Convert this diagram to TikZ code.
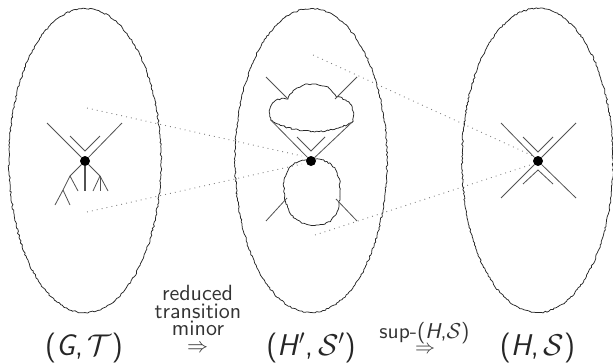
\RequirePackage{fix-cm}
\documentclass[tikz,border=0pt]{standalone}
\usetikzlibrary{decorations.pathmorphing}
\newcommand{\midtxt}[1]{\scalebox{2.2}{\sffamily\fontsize{10}{12}\selectfont #1}}
\newcommand{\suptxt}[1]{\scalebox{2.15}{\sffamily\fontsize{10}{12}\selectfont #1}}
\begin{document}
\begin{tikzpicture}[x=1pt,y=-1pt,
  wob/.style={draw=black!85, line width=0.75pt, decorate, decoration={random steps, segment length=2pt, amplitude=0.75pt}},
  ln/.style={draw=black!68, line width=0.8pt},
  dotl/.style={draw=black!50, line width=0.9pt, dash pattern=on 0.9pt off 4.1pt},
  vtx/.style={circle, fill=black, inner sep=0pt, minimum size=10pt},
  big/.style={font=\sffamily\fontsize{30}{30}\selectfont, text=black!85, inner sep=0pt, anchor=base},
  mid/.style={text=black!80, inner sep=0pt, anchor=base},
  arr/.style={text=black!80, inner sep=0pt, anchor=center},
]
\useasboundingbox (0,0) rectangle (613,364);
\pgfmathsetseed{7}
% outer ellipses
\draw[wob] (85,160.5) ellipse [x radius=76, y radius=152];
\draw[wob] (311,160.5) ellipse [x radius=76, y radius=152];
\draw[wob] (537.5,160.5) ellipse [x radius=75.5, y radius=152];

% clouds in the middle
\draw[wob] (270.7,120) .. controls (266,105) and (276,97) .. (288,99)
  .. controls (292,86) and (310,82) .. (318,85)
  .. controls (330,86) and (335,93) .. (336,97)
  .. controls (348,98) and (356,108) .. (353,121)
  .. controls (340,130) and (320,133) .. (310,131)
  .. controls (295,130) and (280,127) .. (270.7,120) -- cycle;
\draw[wob] (311,159) .. controls (330,158) and (341,170) .. (340,190)
  .. controls (340,205) and (338,225) .. (316,225)
  .. controls (295,226) and (286,212) .. (284,190)
  .. controls (282,170) and (295,159) .. (311,159) -- cycle;

% vertices
\node[vtx] (L) at (85,161) {};
\node[vtx] (M) at (311,161) {};
\node[vtx] (R) at (538,161) {};

% left structure
\coordinate (la) at (47,123);
\coordinate (lb) at (122,123);
\coordinate (lv1) at (70,136);
\coordinate (lv2) at (85,151);
\coordinate (lv3) at (100,136);
\coordinate (lq) at (70,176);
\coordinate (lq1) at (78,191);
\coordinate (lq2) at (63,190);
\coordinate (lq3) at (55,205);
\coordinate (lq4) at (70,205);
\coordinate (lm) at (85,191);
\coordinate (lr) at (100,176);
\coordinate (lr1) at (93,191);
\coordinate (lr2) at (100,191);
\coordinate (lr3) at (108,191);
\draw[ln] (la) -- (L);
\draw[ln] (lb) -- (L);
\draw[ln] (lv1) -- (lv2) -- (lv3);
\draw[ln] (L) -- (lq);
\draw[ln] (lq) -- (lq1);
\draw[ln] (lq) -- (lq2) -- (lq3);
\draw[ln] (lq2) -- (lq4);
\draw[ln, line width=1.1pt] (L) -- (lm);
\draw[ln] (L) -- (lr);
\draw[ln] (lr) -- (lr1);
\draw[ln] (lr) -- (lr2);
\draw[ln] (lr) -- (lr3);

% middle structure
\coordinate (ma) at (270.7,120);
\coordinate (mb) at (353.3,121);
\coordinate (mv1) at (297,137);
\coordinate (mv2) at (311,151);
\coordinate (mv3) at (325,137);
\coordinate (mt1) at (266,77);
\coordinate (mt2) at (288,99);
\coordinate (mt3) at (357,77);
\coordinate (mt4) at (335,99);
\coordinate (mu1) at (266,221);
\coordinate (mu2) at (287,198);
\coordinate (mu3) at (357,221);
\coordinate (mu4) at (336,199);
\draw[ln] (ma) -- (M);
\draw[ln] (mb) -- (M);
\draw[ln] (mv1) -- (mv2) -- (mv3);
\draw[ln] (mt1) -- (mt2);
\draw[ln] (mt3) -- (mt4);
\draw[ln] (mu1) -- (mu2);
\draw[ln] (mu3) -- (mu4);

% right structure
\coordinate (ra) at (501,123);
\coordinate (rb) at (576,198);
\coordinate (rc) at (576,123);
\coordinate (rd) at (501,198);
\draw[ln] (ra) -- (R);
\draw[ln] (R) -- (rb);
\draw[ln] (rc) -- (R);
\draw[ln] (R) -- (rd);
\coordinate (ru1) at (523,137);
\coordinate (ru2) at (538,152);
\coordinate (ru3) at (553,137);
\coordinate (rl1) at (523,184);
\coordinate (rl2) at (538,170);
\coordinate (rl3) at (553,184);
\draw[ln] (ru1) -- (ru2) -- (ru3);
\draw[ln] (rl1) -- (rl2) -- (rl3);

% dotted correspondences
\coordinate (d1s) at (87,108);
\coordinate (d1e) at (302,156);
\coordinate (d2s) at (87,212);
\coordinate (d2e) at (302,164);
\coordinate (d3s) at (313,55);
\coordinate (d3e) at (533,156);
\coordinate (d4s) at (315,235);
\coordinate (d4e) at (533,164);
\draw[dotl] (d1s) -- (d1e);
\draw[dotl] (d2s) -- (d2e);
\draw[dotl] (d3s) -- (d3e);
\draw[dotl] (d4s) -- (d4e);

% labels
\node[big] (lG) at (84,355) {(\textit{G},\,$\mathcal{T}$)};
\node[big] (lHp) at (311,355) {(\textit{H}$'$,\,$\mathcal{S}'$)};
\node[big] (lH) at (537.5,355) {(\textit{H},\,$\mathcal{S}$)};
\node[mid] (t1) at (197.5,300.5) {\midtxt{reduced}};
\node[mid] (t2) at (198,318) {\midtxt{transition}};
\node[mid] (t3) at (198,335.5) {\midtxt{minor}};
\node[arr, font=\fontsize{21}{21}\selectfont] (a1) at (197.5,348.5) {$\Rightarrow$};
\node[mid] (sp) at (424.5,338) {\suptxt{sup-(\textit{H},$\mathcal{S}$)}};
\node[arr, font=\fontsize{20}{20}\selectfont] (a2) at (425,350) {$\Rightarrow$};
\end{tikzpicture}
\end{document}
